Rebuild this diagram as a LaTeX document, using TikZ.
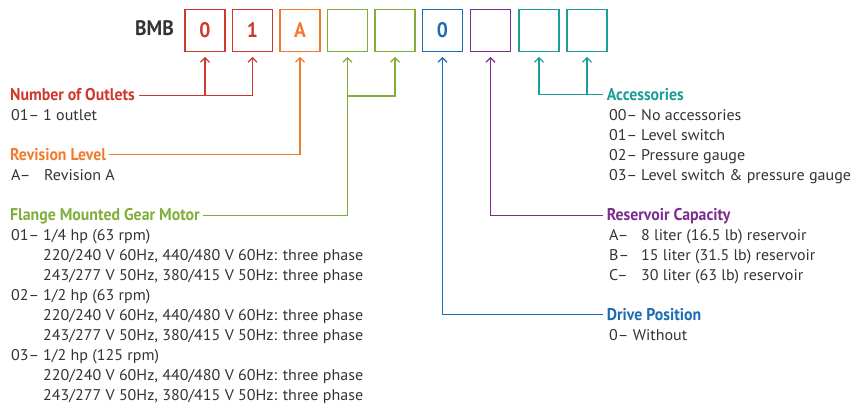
\documentclass[tikz,border=0pt]{standalone}
\usepackage{fontspec}
\setmainfont[FakeStretch=1.035]{PT Sans}
\newfontfamily\hdfont[FakeStretch=0.93]{PT Sans}
\usetikzlibrary{arrows.meta}
\definecolor{cred}{HTML}{D0382B}
\definecolor{corange}{HTML}{F07B2E}
\definecolor{cgreen}{HTML}{7FAF3A}
\definecolor{cblue}{HTML}{1B6BB5}
\definecolor{cpurple}{HTML}{7B2E8E}
\definecolor{cteal}{HTML}{1A9E96}
\definecolor{ctxt}{HTML}{333333}
\begin{document}
\begin{tikzpicture}[x=1pt,y=-1pt,
  box/.style={draw=#1, text=#1, minimum width=40pt, minimum height=42pt, line width=1.2pt, inner sep=0pt, font=\hdfont\bfseries\fontsize{21}{21}\selectfont},
  hd/.style={anchor=base west, inner sep=0pt, text height=11pt, text depth=0pt, text=#1, font=\hdfont\bfseries\fontsize{17}{17}\selectfont},
  bd/.style={anchor=base west, inner sep=0pt, text=ctxt, font=\fontsize{15.5}{15.5}\selectfont},
  ln/.style={draw=#1, line width=1.2pt},
  arr/.style={-{Straight Barb[length=4.5pt,width=9pt]}, shorten >=5pt}
]
\useasboundingbox (0,0) rectangle (854,404);
% code boxes
\node[anchor=base west, inner sep=0pt, text=ctxt, font=\hdfont\bfseries\fontsize{21}{21}\selectfont] (bmb) at (135,35.7) {BMB};
\node[box=cred] (b1) at (205,30.3) {0};
\node[box=cred] (b2) at (252.5,30.3) {1};
\node[box=corange] (b3) at (300,30.3) {A};
\node[box=cgreen] (b4) at (347.5,30.3) {};
\node[box=cgreen] (b5) at (395,30.3) {};
\node[box=cblue] (b6) at (442.5,30.3) {0};
\node[box=cpurple] (b7) at (490.5,30.3) {};
\node[box=cteal] (b8) at (539,30.3) {};
\node[box=cteal] (b9) at (587,30.3) {};
% left headings
\node[hd=cred] (h1) at (10,100.7) {Number of Outlets};
\node[bd] (c11) at (11,120) {01–};
\node[bd] (d11) at (43,120) {1 outlet};
\node[hd=corange] (h2) at (10,160) {Revision Level};
\node[bd] (c21) at (11,180) {A–};
\node[bd] (d21) at (44,180) {Revision A};
\node[hd=cgreen] (h3) at (10,220.7) {Flange Mounted Gear Motor};
\node[bd] (c31) at (11,240) {01–};
\node[bd] (d31) at (43,240) {1/4 hp (63 rpm)};
\node[bd] (e31) at (43,260) {220/240 V 60Hz, 440/480 V 60Hz: three phase};
\node[bd] (f31) at (43,280) {243/277 V 50Hz, 380/415 V 50Hz: three phase};
\node[bd] (c32) at (11,300) {02–};
\node[bd] (d32) at (43,300) {1/2 hp (63 rpm)};
\node[bd] (e32) at (43,320) {220/240 V 60Hz, 440/480 V 60Hz: three phase};
\node[bd] (f32) at (43,340) {243/277 V 50Hz, 380/415 V 50Hz: three phase};
\node[bd] (c33) at (11,360) {03–};
\node[bd] (d33) at (43,360) {1/2 hp (125 rpm)};
\node[bd] (e33) at (43,380) {220/240 V 60Hz, 440/480 V 60Hz: three phase};
\node[bd] (f33) at (43,400) {243/277 V 50Hz, 380/415 V 50Hz: three phase};
% right headings
\node[hd=cteal] (h4) at (606.7,100) {Accessories};
\node[bd] (c41) at (609,120) {00–};
\node[bd] (d41) at (641,120) {No accessories};
\node[bd] (c42) at (609,140) {01–};
\node[bd] (d42) at (641,140) {Level switch};
\node[bd] (c43) at (609,160) {02–};
\node[bd] (d43) at (641,160) {Pressure gauge};
\node[bd] (c44) at (609,180) {03–};
\node[bd] (d44) at (641,180) {Level switch \& pressure gauge};
\node[hd=cpurple] (h5) at (606.7,220.7) {Reservoir Capacity};
\node[bd] (c51) at (609,240) {A–};
\node[bd] (d51) at (641,240) {8 liter (16.5 lb) reservoir};
\node[bd] (c52) at (609,260) {B–};
\node[bd] (d52) at (641,260) {15 liter (31.5 lb) reservoir};
\node[bd] (c53) at (609,280) {C–};
\node[bd] (d53) at (641,280) {30 liter (63 lb) reservoir};
\node[hd=cblue] (h6) at (606.7,320) {Drive Position};
\node[bd] (c61) at (609,340) {0– Without};
% connectors
\coordinate (jr1) at (b1 |- h1.east);
\coordinate (jr2) at (b2 |- h1.east);
\draw[ln=cred, shorten <=4pt] (h1.east) -- (jr2);
\draw[ln=cred, arr] (jr1) -- (b1.south);
\draw[ln=cred, arr] (jr2) -- (b2.south);
\draw[ln=corange, arr, shorten <=3pt] (h2.east) -| (b3.south);
\coordinate (jg1) at (347.5,96);
\draw[ln=cgreen, shorten <=3pt] (h3.east) -| (jg1);
\draw[ln=cgreen, arr] (jg1) -- (b4.south);
\draw[ln=cgreen, arr] (jg1) -| (b5.south);
\draw[ln=cblue, arr, shorten <=4pt] (h6.west) -| (b6.south);
\draw[ln=cpurple, arr, shorten <=4pt] (h5.west) -| (b7.south);
\coordinate (jt2) at (b9 |- h4.west);
\draw[ln=cteal, arr, shorten <=4pt] (h4.west) -| (b8.south);
\draw[ln=cteal, arr] (jt2) -- (b9.south);
\end{tikzpicture}
\end{document}
